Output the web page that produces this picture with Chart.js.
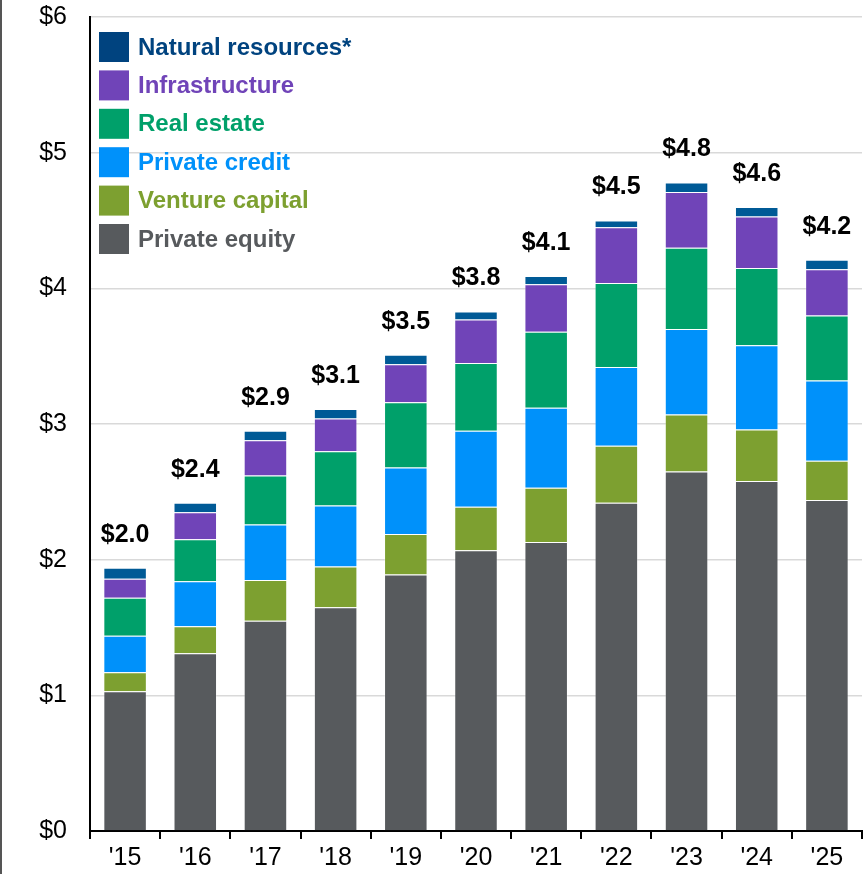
<!DOCTYPE html>
<html>
<head>
<meta charset="utf-8">
<script src="https://cdn.jsdelivr.net/npm/chart.js@4.4.1/dist/chart.umd.min.js"></script>
<style>
  html, body { margin: 0; padding: 0; background: #fff; }
  #wrap { width: 864px; height: 874px; position: relative; }
</style>
</head>
<body>
<div id="wrap"><canvas id="c" width="864" height="874"></canvas></div>
<script>
const years = ["'15", "'16", "'17", "'18", "'19", "'20", "'21", "'22", "'23", "'24", "'25"];
const yTickLabels = ["$0", "$1", "$2", "$3", "$4", "$5", "$6"];
const totalLabels = ["$2.0", "$2.4", "$2.9", "$3.1", "$3.5", "$3.8", "$4.1", "$4.5", "$4.8", "$4.6", "$4.2"];

const privateEquity     = [1.03, 1.31, 1.55, 1.65, 1.89, 2.07, 2.13, 2.42, 2.65, 2.58, 2.44];
const ventureCapital    = [0.14, 0.20, 0.30, 0.30, 0.30, 0.32, 0.40, 0.42, 0.42, 0.38, 0.29];
const privateCredit     = [0.27, 0.33, 0.41, 0.45, 0.49, 0.56, 0.59, 0.58, 0.63, 0.62, 0.59];
const realEstate        = [0.28, 0.31, 0.36, 0.40, 0.48, 0.50, 0.56, 0.62, 0.60, 0.57, 0.48];
const infrastructure    = [0.14, 0.20, 0.26, 0.24, 0.28, 0.32, 0.35, 0.41, 0.41, 0.38, 0.34];
const naturalResources  = [0.08, 0.07, 0.07, 0.07, 0.07, 0.06, 0.06, 0.05, 0.07, 0.07, 0.07];

const seriesNames  = ["Private equity", "Venture capital", "Private credit", "Real estate", "Infrastructure", "Natural resources*"];
const seriesColors = ["#575A5D", "#7DA030", "#0091FA", "#00A06A", "#7044B8", "#005A96"];
const legendTextColors = ["#575A5D", "#7DA030", "#0091FA", "#00A06A", "#7044B8", "#00437F"];
const seriesData = [privateEquity, ventureCapital, privateCredit, realEstate, infrastructure, naturalResources];

const FONT = "Arial, 'Liberation Sans', Helvetica, sans-serif";

const datasets = seriesNames.map((name, i) => ({
  label: name,
  data: seriesData[i],
  backgroundColor: seriesColors[i],
  borderColor: 'rgba(255,255,255,0.25)',
  borderWidth: 1,
  categoryPercentage: 1.0,
  barPercentage: 0.62
}));

const overlayPlugin = {
  id: 'overlay',
  afterDatasetsDraw(chart) {
    const ctx = chart.ctx;
    const xs = chart.scales.x, ys = chart.scales.y;
    ctx.save();
    ctx.font = "bold 25px " + FONT;
    ctx.fillStyle = "#000";
    ctx.textAlign = "center";
    ctx.textBaseline = "middle";
    years.forEach((y, i) => {
      let total = 0;
      seriesData.forEach(s => total += s[i]);
      const px = xs.getPixelForValue(i);
      const py = ys.getPixelForValue(total);
      ctx.fillText(totalLabels[i], px, py - 33);
    });
    ctx.restore();

    ctx.save();
    ctx.font = "bold 24px " + FONT;
    ctx.textAlign = "left";
    ctx.textBaseline = "middle";
    const boxX = 99, boxSize = 30, top0 = 32, step = 38.4;
    for (let k = 0; k < seriesNames.length; k++) {
      const i = seriesNames.length - 1 - k;
      const ty = top0 + k * step;
      ctx.fillStyle = i === 5 ? "#00437F" : seriesColors[i];
      ctx.fillRect(boxX, ty, boxSize, boxSize);
      ctx.fillStyle = legendTextColors[i];
      ctx.fillText(seriesNames[i], 138, ty + boxSize / 2 + 1);
    }
    ctx.restore();

    ctx.save();
    ctx.fillStyle = "#555";
    ctx.fillRect(0, 0, 2, chart.height);
    ctx.restore();
  }
};

new Chart(document.getElementById('c'), {
  type: 'bar',
  data: { labels: years, datasets },
  options: {
    responsive: false,
    animation: false,
    layout: { padding: { top: 17, right: 2, left: 0, bottom: 0 } },
    plugins: { legend: { display: false }, tooltip: { enabled: false } },
    scales: {
      x: {
        stacked: true,
        grid: { offset: true, drawOnChartArea: false, drawTicks: true, tickLength: 8, color: '#000', lineWidth: 2 },
        border: { color: '#000', width: 2 },
        ticks: { color: '#000', font: { family: FONT, size: 25 }, padding: 4, maxRotation: 0 },
        afterFit(scale) { scale.height = 43; scale.paddingLeft = 0; scale.paddingRight = 0; }
      },
      y: {
        stacked: true,
        min: 0, max: 6,
        ticks: {
          stepSize: 1,
          color: '#000',
          font: { family: FONT, size: 25 },
          padding: 23,
          callback: (v) => yTickLabels[v]
        },
        grid: { color: '#D9D9D9', lineWidth: 1.5, drawTicks: false },
        border: { color: '#000', width: 2 },
        afterFit(scale) { scale.width = 90; scale.paddingTop = 0; scale.paddingBottom = 0; }
      }
    }
  },
  plugins: [overlayPlugin]
});
</script>
</body>
</html>
